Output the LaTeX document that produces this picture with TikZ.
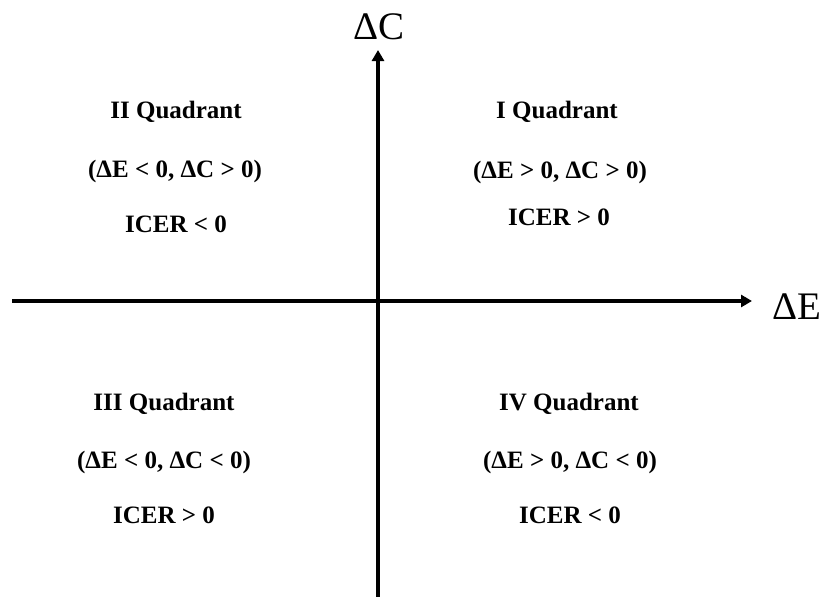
\documentclass[tikz,border=0pt]{standalone}
\usepackage{fontspec}
\setmainfont{Liberation Serif}
\usetikzlibrary{arrows.meta}
\tikzset{
  axis/.style={line width=3.2pt,-{Triangle[length=11pt,width=12pt]}},
  qtext/.style={anchor=base,inner sep=0pt,font=\fontsize{25}{29}\selectfont\bfseries},
  axlabel/.style={anchor=base,inner sep=0pt,font=\fontsize{39}{44}\selectfont}
}
\begin{document}
\begin{tikzpicture}[x=1pt,y=-1pt]
\useasboundingbox (0,0) rectangle (825,597);
\coordinate (xs) at (12,301);
\coordinate (xe) at (752,301);
\coordinate (ys) at (378,597);
\coordinate (ye) at (378,50);
\draw[axis] (xs) -- (xe);
\draw[axis] (ys) -- (ye);
\node[axlabel] (lc) at (379,39) {ΔC};
\node[axlabel] (le) at (797,319) {ΔE};
% Quadrant II
\node[qtext] (q2a) at (176,118) {II Quadrant};
\node[qtext] (q2b) at (175,177) {(ΔE < 0, ΔC > 0)};
\node[qtext] (q2c) at (176,232) {ICER < 0};
% Quadrant I
\node[qtext] (q1a) at (557,118) {I Quadrant};
\node[qtext] (q1b) at (560,178) {(ΔE > 0, ΔC > 0)};
\node[qtext] (q1c) at (559,225) {ICER > 0};
% Quadrant III
\node[qtext] (q3a) at (164,410) {III Quadrant};
\node[qtext] (q3b) at (164,468) {(ΔE < 0, ΔC < 0)};
\node[qtext] (q3c) at (164,523) {ICER > 0};
% Quadrant IV
\node[qtext] (q4a) at (569,410) {IV Quadrant};
\node[qtext] (q4b) at (570,468) {(ΔE > 0, ΔC < 0)};
\node[qtext] (q4c) at (570,523) {ICER < 0};
\end{tikzpicture}
\end{document}
